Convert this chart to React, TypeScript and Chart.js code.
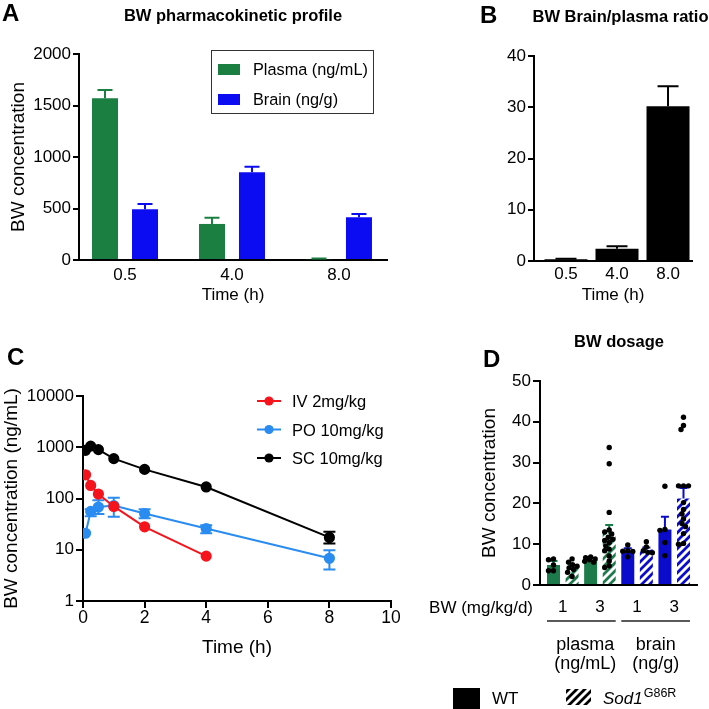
import React, { useEffect, useRef } from 'react';
import { Chart, registerables } from 'chart.js';

Chart.register(...registerables);

const FONT = "'Liberation Sans', Arial, Helvetica, sans-serif";

// ---------------- Panel A data ----------------
const titleA = 'BW pharmacokinetic profile';
const timeCatsA = ['0.5', '4.0', '8.0'];
const legendA = ['Plasma (ng/mL)', 'Brain (ng/g)'];
const plasmaMean = [1570, 350, 8];
const plasmaErr = [80, 60, 7];
const brainMean = [492, 851, 414];
const brainErr = [52, 55, 32];

// ---------------- Panel B data ----------------
const titleB = 'BW Brain/plasma ratio';
const timeCatsB = ['0.5', '4.0', '8.0'];
const ratioMean = [0.35, 2.4, 30.2];
const ratioErr = [0.1, 0.5, 3.9];

// ---------------- Panel C data ----------------
const legendC = ['IV 2mg/kg', 'PO 10mg/kg', 'SC 10mg/kg'];
const ivTime = [0.083, 0.25, 0.5, 1, 2, 4];
const ivConc = [290, 180, 122, 70, 28, 7.5];
const ivLow = [null, null, null, null, null, null];
const ivHigh = [null, null, null, null, null, null];
const poTime = [0.083, 0.25, 0.5, 1, 2, 4, 8];
const poConc = [21, 56, 68, 73, 51, 26, 6.8];
const poLow = [null, 45, 50, 44, 41, 21, 4.1];
const poHigh = [null, 62, 92, 104, 62, 30, 9.8];
const scTime = [0.083, 0.25, 0.5, 1, 2, 4, 8];
const scConc = [870, 1050, 900, 600, 370, 168, 17.4];
const scLow = [null, null, null, null, null, null, 13.2];
const scHigh = [null, null, null, null, null, null, 22.5];
const yTicksC = [1, 10, 100, 1000, 10000];
const xTicksC = [0, 2, 4, 6, 8, 10];

// ---------------- Panel D data ----------------
const titleD = 'BW dosage';
const doseLabels = ['1', '3', '1', '3'];
const tissueLabels = [['plasma', '(ng/mL)'], ['brain', '(ng/g)']];
const genotypeLabels = ['WT', 'Sod1', 'G86R'];
const dMean = [4.9, 4.3, 6.1, 12.5, 8.4, 8.7, 13.6, 21.2];
const dErr = [1.0, 0.6, 0.5, 2.2, 0.6, 0.5, 3.1, 2.6];
const dPoints = [
  [6.4, 6.2, 4.9, 3.5, 3.5],
  [6.4, 5.6, 5.0, 4.6, 4.2, 3.8, 3.1, 2.1],
  [6.9, 6.7, 6.4, 6.2, 5.8, 5.6],
  [33.7, 29.7, 17.8, 13.5, 13.0, 12.5, 11.7, 11.2, 10.9, 10.4, 9.6, 8.8, 8.4, 7.1, 5.9, 4.7, 4.3],
  [9.8, 8.4, 8.3, 8.2, 6.9],
  [10.6, 9.3, 8.4, 8.0, 7.9],
  [24.2, 13.6, 13.4, 10.4, 7.2],
  [41.1, 39.1, 38.1, 24.3, 24.3, 24.3, 20.2, 18.5, 17.4, 16.2, 15.1, 14.3, 12.6, 10.2, 10.0],
];

// ---------------- colours ----------------
const GREEN_A = '#1b7f42';
const BLUE_A = '#0c0cf2';
const GREEN_D = '#1d7a4a';
const BLUE_D = '#0b0bcc';
const RED_C = '#f5141c';
const BLUE_C = '#2a8cf0';
const BLACK = '#000000';

// ---------------- helpers ----------------
function txt(ctx: any, s: string, x: number, y: number, font: string, align: any = 'left', color = '#000', rot = 0) {
  ctx.save();
  ctx.font = font;
  ctx.fillStyle = color;
  ctx.textAlign = align;
  ctx.textBaseline = 'alphabetic';
  ctx.translate(x, y);
  if (rot) ctx.rotate(rot);
  ctx.fillText(s, 0, 0);
  ctx.restore();
}

function hatch(color: string): any {
  const s = 8;
  const c = document.createElement('canvas');
  c.width = s;
  c.height = s;
  const g = c.getContext('2d')!;
  g.fillStyle = color;
  g.fillRect(0, 0, s, s);
  g.strokeStyle = '#ffffff';
  g.lineWidth = 2.9;
  g.beginPath();
  g.moveTo(-4, 4); g.lineTo(4, -4);
  g.moveTo(-1, 9); g.lineTo(9, -1);
  g.moveTo(4, 12); g.lineTo(12, 4);
  g.stroke();
  return g.createPattern(c, 'repeat');
}

// simple beeswarm layout (pixel space), offsets limited to maxOff
function beeswarm(pys: number[], D: number, maxOff: number): number[] {
  const order = pys.map((_, i) => i).sort((a, b) => pys[a] - pys[b]);
  const placed: { x: number; y: number }[] = [];
  const res = new Array(pys.length).fill(0);
  for (const i of order) {
    const y = pys[i];
    let best = 0;
    let bestScore = Infinity;
    for (let k = 0; k < 400; k++) {
      const off = (k % 2 === 0 ? 1 : -1) * Math.ceil(k / 2) * 0.5;
      if (Math.abs(off) > maxOff) break;
      let overlap = 0;
      placed.forEach((p) => {
        const d = Math.sqrt((p.x - off) ** 2 + (p.y - y) ** 2);
        if (d < D) overlap += D - d;
      });
      if (overlap === 0) { best = off; bestScore = 0; break; }
      if (overlap < bestScore - 1e-6) { bestScore = overlap; best = off; }
    }
    placed.push({ x: best, y });
    res[i] = best;
  }
  return res;
}

const base: any = {
  responsive: false,
  maintainAspectRatio: false,
  animation: false,
  events: [],
  plugins: { legend: { display: false }, tooltip: { enabled: false }, title: { display: false } },
};

function xAxis(o: any) {
  return {
    type: 'linear',
    min: o.min,
    max: o.max,
    offset: false,
    afterFit: (s: any) => { s.height = o.height; s.paddingLeft = 0; s.paddingRight = 0; },
    afterBuildTicks: (s: any) => { s.ticks = o.ticks.map((v: number) => ({ value: v })); },
    grid: { display: (o.tickLen || 0) > 0, drawOnChartArea: false, drawTicks: true, tickLength: o.tickLen || 0, color: '#000', lineWidth: 2, offset: false },
    border: { display: true, color: '#000', width: 2 },
    ticks: { color: '#000', font: { family: FONT, size: o.fontSize || 17 }, padding: o.pad, maxRotation: 0, autoSkip: false, callback: (_v: any, i: number) => o.labels[i] },
    title: o.title
      ? { display: true, text: o.title, color: '#000', font: { family: FONT, size: o.titleSize || 17 }, padding: { top: 0, bottom: o.titlePad || 0 } }
      : { display: false },
  };
}

function yAxis(o: any) {
  return {
    type: o.type || 'linear',
    min: o.min,
    max: o.max,
    afterFit: (s: any) => { s.width = o.width; s.paddingTop = 0; s.paddingBottom = 0; },
    afterBuildTicks: (s: any) => { s.ticks = o.ticks.map((v: number) => ({ value: v })); },
    grid: { display: true, drawOnChartArea: false, drawTicks: true, tickLength: o.tickLen || 6, color: '#000', lineWidth: 2 },
    border: { display: true, color: '#000', width: 2 },
    ticks: { color: '#000', font: { family: FONT, size: o.fontSize || 17 }, padding: o.pad, autoSkip: false, callback: (v: any) => String(v) },
    title: o.title
      ? { display: true, text: o.title, color: '#000', font: { family: FONT, size: 19 }, padding: { top: o.titlePad || 0, bottom: 0 } }
      : { display: false },
  };
}

function drawUpperErr(ctx: any, x: number, yTop: number, yErr: number, cap: number, color: string) {
  ctx.save();
  ctx.strokeStyle = color;
  ctx.lineWidth = 2;
  ctx.beginPath();
  ctx.moveTo(x, yTop);
  ctx.lineTo(x, yErr);
  ctx.moveTo(x - cap / 2, yErr);
  ctx.lineTo(x + cap / 2, yErr);
  ctx.stroke();
  ctx.restore();
}

// ---------------- Panel A ----------------
function buildA(): any {
  const errs = [plasmaErr, brainErr];
  const cols = [GREEN_A, BLUE_A];
  return {
    type: 'bar',
    data: {
      datasets: [
        { label: legendA[0], data: plasmaMean.map((y, i) => ({ x: i, y })), backgroundColor: GREEN_A, categoryPercentage: 0.748, barPercentage: 0.65 },
        { label: legendA[1], data: brainMean.map((y, i) => ({ x: i, y })), backgroundColor: BLUE_A, categoryPercentage: 0.748, barPercentage: 0.65 },
      ],
    },
    options: {
      ...base,
      layout: { padding: { left: 0, top: 54, right: 13, bottom: 0 } },
      scales: {
        x: xAxis({ min: -0.43, max: 2.449, height: 50, ticks: [0, 1, 2], labels: timeCatsA, pad: 5, title: 'Time (h)', titlePad: 4 }),
        y: yAxis({ min: 0, max: 2000, width: 79, ticks: [0, 500, 1000, 1500, 2000], pad: 2, title: 'BW concentration', titlePad: 7 }),
      },
    },
    plugins: [
      {
        id: 'decorA',
        afterDatasetsDraw(chart: any) {
          const ys = chart.scales.y;
          chart.data.datasets.forEach((ds: any, di: number) => {
            chart.getDatasetMeta(di).data.forEach((el: any, i: number) => {
              drawUpperErr(chart.ctx, el.x, el.y, ys.getPixelForValue(ds.data[i].y + errs[di][i]), 15, cols[di]);
            });
          });
        },
        afterDraw(chart: any) {
          const ctx = chart.ctx;
          txt(ctx, 'A', 2, 21, `bold 24px ${FONT}`);
          txt(ctx, titleA, 233, 21, `bold 16.5px ${FONT}`, 'center');
          ctx.save();
          ctx.fillStyle = '#fff';
          ctx.strokeStyle = '#333';
          ctx.lineWidth = 1;
          ctx.fillRect(211.5, 50.5, 162, 63);
          ctx.strokeRect(211.5, 50.5, 162, 63);
          ctx.restore();
          legendA.forEach((l, i) => {
            ctx.fillStyle = cols[i];
            ctx.fillRect(218, 64 + i * 30, 22, 11);
            txt(ctx, l, 253, 75 + i * 30, `16.3px ${FONT}`);
          });
        },
      },
    ],
  };
}

// ---------------- Panel B ----------------
function buildB(): any {
  return {
    type: 'bar',
    data: {
      datasets: [{ data: ratioMean.map((y, i) => ({ x: i, y })), backgroundColor: BLACK, categoryPercentage: 1, barPercentage: 0.843 }],
    },
    options: {
      ...base,
      layout: { padding: { left: 0, top: 56, right: 17, bottom: 0 } },
      scales: {
        x: xAxis({ min: -0.627, max: 2.47, height: 49, ticks: [0, 1, 2], labels: timeCatsB, pad: 3, title: 'Time (h)', titlePad: 4 }),
        y: yAxis({ min: 0, max: 40, width: 104, ticks: [0, 10, 20, 30, 40], pad: 2 }),
      },
    },
    plugins: [
      {
        id: 'decorB',
        afterDatasetsDraw(chart: any) {
          const ys = chart.scales.y;
          chart.getDatasetMeta(0).data.forEach((el: any, i: number) => {
            drawUpperErr(chart.ctx, el.x, el.y, ys.getPixelForValue(ratioMean[i] + ratioErr[i]), 21, BLACK);
          });
        },
        afterDraw(chart: any) {
          const ctx = chart.ctx;
          txt(ctx, 'B', 50, 23, `bold 24px ${FONT}`);
          txt(ctx, titleB, 190.5, 22, `bold 16.5px ${FONT}`, 'center');
        },
      },
    ],
  };
}

// ---------------- Panel C ----------------
function buildC(): any {
  const series = [
    { t: ivTime, c: ivConc, lo: ivLow, hi: ivHigh, col: RED_C },
    { t: poTime, c: poConc, lo: poLow, hi: poHigh, col: BLUE_C },
    { t: scTime, c: scConc, lo: scLow, hi: scHigh, col: BLACK },
  ];
  return {
    type: 'scatter',
    data: {
      datasets: series.map((s, k) => ({
        label: legendC[k],
        data: s.t.map((x, i) => ({ x, y: s.c[i] })),
        showLine: true,
        borderColor: s.col,
        backgroundColor: s.col,
        pointBackgroundColor: s.col,
        pointBorderColor: s.col,
        pointRadius: 4.6,
        borderWidth: 2,
      })),
    },
    options: {
      ...base,
      layout: { padding: { left: 0, top: 86, right: 29, bottom: 0 } },
      scales: {
        x: xAxis({ min: 0, max: 10, height: 69, ticks: xTicksC, labels: xTicksC.map(String), pad: 0, tickLen: 7, fontSize: 17.5, title: 'Time (h)', titleSize: 19, titlePad: 10.6 }),
        y: yAxis({ type: 'logarithmic', min: 1, max: 10000, width: 83, ticks: yTicksC, pad: 2, tickLen: 7, fontSize: 17, title: 'BW concentration (ng/mL)', titlePad: 0 }),
      },
    },
    plugins: [
      {
        id: 'decorC',
        beforeDatasetsDraw(chart: any) {
          const ys = chart.scales.y;
          const xs = chart.scales.x;
          series.forEach((s) => {
            s.t.forEach((t, i) => {
              if (s.lo[i] == null || s.hi[i] == null) return;
              const x = xs.getPixelForValue(t);
              const y1 = ys.getPixelForValue(s.lo[i]);
              const y2 = ys.getPixelForValue(s.hi[i]);
              const ctx = chart.ctx;
              ctx.save();
              ctx.strokeStyle = s.col;
              ctx.lineWidth = 2;
              ctx.beginPath();
              ctx.moveTo(x, y1); ctx.lineTo(x, y2);
              ctx.moveTo(x - 6, y1); ctx.lineTo(x + 6, y1);
              ctx.moveTo(x - 6, y2); ctx.lineTo(x + 6, y2);
              ctx.stroke();
              ctx.restore();
            });
          });
        },
        afterDraw(chart: any) {
          const ctx = chart.ctx;
          txt(ctx, 'C', 7, 55, `bold 24px ${FONT}`);
          series.forEach((s, k) => {
            const y = 91 + k * 28.5;
            ctx.save();
            ctx.strokeStyle = s.col;
            ctx.fillStyle = s.col;
            ctx.lineWidth = 2;
            ctx.beginPath();
            ctx.moveTo(257, y); ctx.lineTo(281, y);
            ctx.stroke();
            ctx.beginPath();
            ctx.arc(269, y, 4.6, 0, Math.PI * 2);
            ctx.fill();
            ctx.restore();
            txt(ctx, legendC[k], 292, y + 6, `16.5px ${FONT}`);
          });
        },
      },
    ],
  };
}

// ---------------- Panel D ----------------
function buildD(): any {
  const solid = [GREEN_D, GREEN_D, GREEN_D, GREEN_D, BLUE_D, BLUE_D, BLUE_D, BLUE_D];
  const fills = solid.map((c, i) => (i % 2 === 1 ? hatch(c) : c));
  return {
    type: 'bar',
    data: {
      datasets: [{ data: dMean.map((y, i) => ({ x: i, y })), backgroundColor: fills, categoryPercentage: 1, barPercentage: 0.7 }],
    },
    options: {
      ...base,
      layout: { padding: { left: 0, top: 71, right: 12, bottom: 0 } },
      scales: {
        x: xAxis({ min: -0.727, max: 7.727, height: 124, ticks: [0.5, 2.5, 4.5, 6.5], labels: doseLabels, pad: 12 }),
        y: yAxis({ min: 0, max: 50, width: 140, ticks: [0, 10, 20, 30, 40, 50], pad: 2, tickLen: 7, title: 'BW concentration', titlePad: 78.6 }),
      },
    },
    plugins: [
      {
        id: 'decorD',
        afterDatasetsDraw(chart: any) {
          const ctx = chart.ctx;
          const ys = chart.scales.y;
          const meta = chart.getDatasetMeta(0);
          meta.data.forEach((el: any, i: number) => {
            drawUpperErr(ctx, el.x, el.y, ys.getPixelForValue(dMean[i] + dErr[i]), 8, solid[i]);
          });
          const r = 2.7;
          meta.data.forEach((el: any, i: number) => {
            const pys = dPoints[i].map((v) => ys.getPixelForValue(v));
            const offs = beeswarm(pys, 4.6, 6);
            ctx.save();
            ctx.fillStyle = '#000';
            pys.forEach((py, j) => {
              ctx.beginPath();
              ctx.arc(el.x + offs[j], py, r, 0, Math.PI * 2);
              ctx.fill();
            });
            ctx.restore();
          });
        },
        afterDraw(chart: any) {
          const ctx = chart.ctx;
          const xs = chart.scales.x;
          const meta = chart.getDatasetMeta(0);
          const bw = meta.data[0].width;
          txt(ctx, 'D', 83, 57, `bold 24px ${FONT}`);
          txt(ctx, titleD, 219, 37, `bold 16.5px ${FONT}`, 'center');
          txt(ctx, 'BW (mg/kg/d)', 133, 303, `17px ${FONT}`, 'right');
          tissueLabels.forEach((lab, g) => {
            const x1 = xs.getPixelForValue(g * 4) - bw / 2;
            const x2 = xs.getPixelForValue(g * 4 + 3) + bw / 2;
            ctx.save();
            ctx.strokeStyle = '#222';
            ctx.lineWidth = 1.3;
            ctx.beginPath();
            ctx.moveTo(x1, 311); ctx.lineTo(x2, 311);
            ctx.stroke();
            ctx.restore();
            const cx = (x1 + x2) / 2 + (g === 0 ? 4 : 0);
            txt(ctx, lab[0], cx, 340, `18px ${FONT}`, 'center');
            txt(ctx, lab[1], cx, 359, `18px ${FONT}`, 'center');
          });
          // genotype legend
          ctx.fillStyle = '#000';
          ctx.fillRect(53, 378, 27, 21);
          txt(ctx, genotypeLabels[0], 92, 394, `17px ${FONT}`);
          ctx.fillStyle = hatch('#000');
          ctx.fillRect(166, 379, 25, 16);
          txt(ctx, genotypeLabels[1], 203, 394, `italic 17px ${FONT}`);
          ctx.save();
          ctx.font = `italic 17px ${FONT}`;
          const w = ctx.measureText(genotypeLabels[1]).width;
          ctx.restore();
          txt(ctx, genotypeLabels[2], 203 + w + 1, 387, `12.5px ${FONT}`);
        },
      },
    ],
  };
}

function ChartCanvas({ left, top, width, height, build }: any) {
  const ref = useRef<HTMLCanvasElement>(null);
  useEffect(() => {
    const chart = new Chart(ref.current as HTMLCanvasElement, build());
    return () => chart.destroy();
  }, []);
  return (
    <canvas
      ref={ref}
      width={width}
      height={height}
      style={{ position: 'absolute', left, top, width, height, display: 'block' }}
    />
  );
}

export default function App() {
  return (
    <div style={{ position: 'fixed', left: 0, top: 0, width: 709, height: 709, background: '#fff', overflow: 'hidden' }}>
      <ChartCanvas left={0} top={0} width={400} height={310} build={buildA} />
      <ChartCanvas left={430} top={0} width={279} height={310} build={buildB} />
      <ChartCanvas left={0} top={310} width={420} height={360} build={buildC} />
      <ChartCanvas left={400} top={310} width={309} height={399} build={buildD} />
    </div>
  );
}
